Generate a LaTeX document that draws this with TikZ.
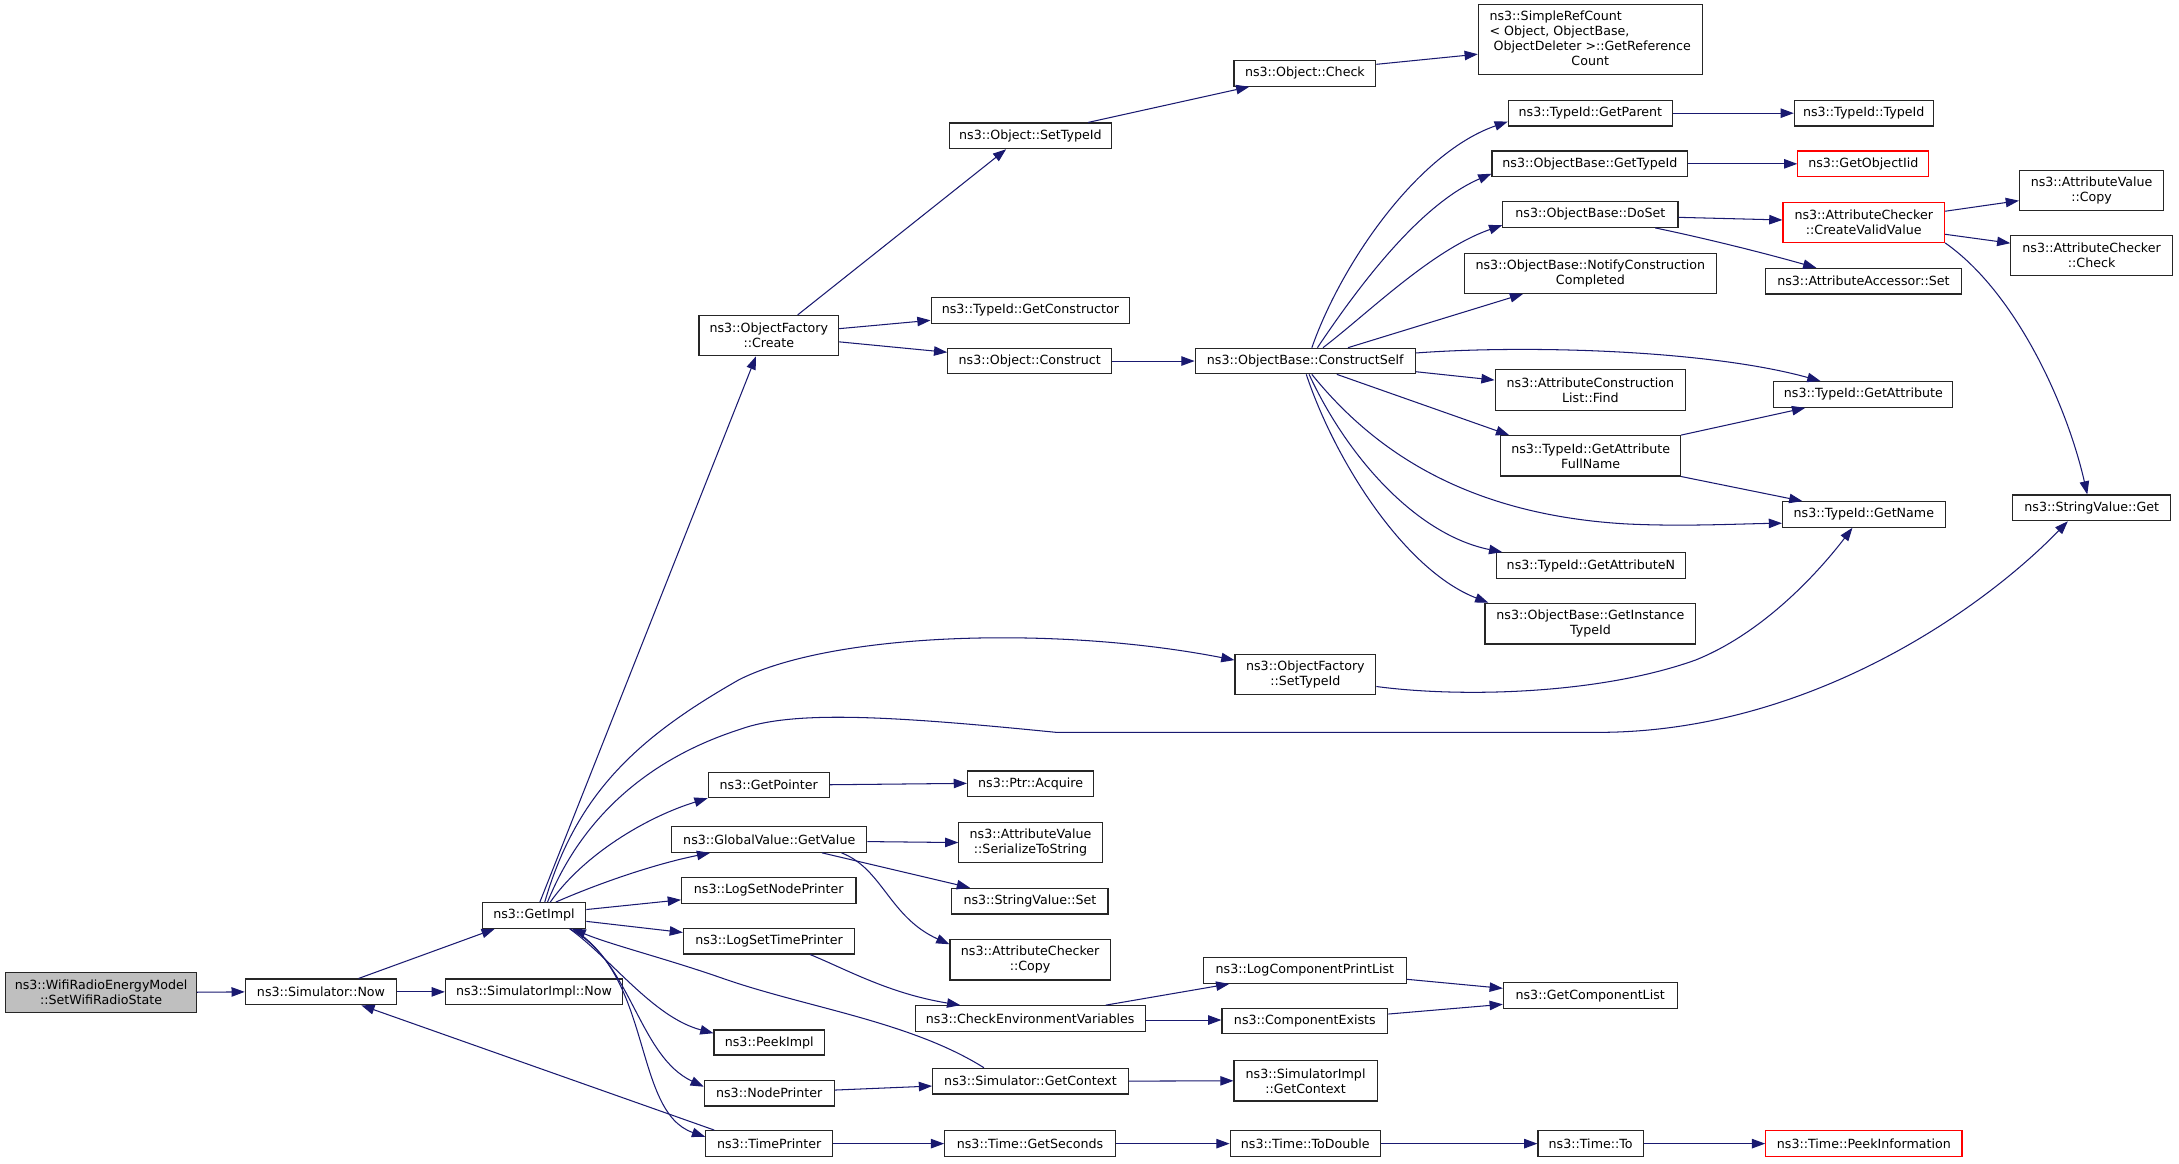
\documentclass[tikz,border=0pt]{standalone}
\usepackage{fontspec}
\setmainfont{DejaVu Sans}
\usetikzlibrary{arrows.meta}
\definecolor{edgec}{HTML}{191970}
\definecolor{startfill}{HTML}{BFBFBF}
\tikzset{
  box/.style={draw=black!85,line width=0.8pt,fill=white,inner sep=0pt,align=center,
    font=\fontsize{9.1}{10.8}\selectfont},
  startbox/.style={fill=startfill},
  redbox/.style={draw=red},
  callarrow/.style={draw=edgec,line width=0.75pt,-{Triangle[length=9.5pt,width=6.8pt]}}
}
\newcommand\bx[7][]{%
  \pgfmathsetmacro\bxw{#5-#3}\pgfmathsetmacro\bxh{#6-#4}%
  \pgfmathsetmacro\bxx{(#3+#5)/2}\pgfmathsetmacro\bxy{(#4+#6)/2}%
  \node[box,#1,minimum width=\bxw pt,minimum height=\bxh pt] (#2) at (\bxx,\bxy) {#7};}
\begin{document}
\begin{tikzpicture}[x=1pt,y=-1pt]
\fill[white] (0,0) rectangle (1568,837);
\useasboundingbox (0,0) rectangle (1568,837);
% nodes
\bx[startbox]{sw}{4}{699.5}{141.5}{728.5}{ns3::WifiRadioEnergyModel\\::SetWifiRadioState}
\bx{sn}{176.5}{704.5}{285.5}{723}{ns3::Simulator::Now}
\bx{sin}{320.5}{704.5}{448}{723}{ns3::SimulatorImpl::Now}
\bx{gi}{347}{649.5}{421.5}{668}{ns3::GetImpl}
\bx{ofc}{503}{227}{603.5}{256}{ns3::ObjectFactory\\::Create}
\bx{ost}{683}{88.5}{800}{107}{ns3::Object::SetTypeId}
\bx{ock}{888}{43.7}{990}{62}{ns3::Object::Check}
\bx{src}{1063.8}{3.4}{1224.8}{53.5}{\begin{tabular}{@{}l@{}}ns3::SimpleRefCount\\< Object, ObjectBase,\\\ ObjectDeleter >::GetReference\\\multicolumn{1}{@{}c@{}}{Count}\end{tabular}}
\bx{gc}{670}{214}{813}{232.7}{ns3::TypeId::GetConstructor}
\bx{oc}{682}{250.6}{800}{269}{ns3::Object::Construct}
\bx{cs}{860}{250.6}{1018.5}{269}{ns3::ObjectBase::ConstructSelf}
\bx{gp}{1085.4}{72.2}{1203.5}{90.7}{ns3::TypeId::GetParent}
\bx{tt}{1291.2}{72.2}{1391}{90.7}{ns3::TypeId::TypeId}
\bx{gt}{1073.6}{108.7}{1214.6}{127.1}{ns3::ObjectBase::GetTypeId}
\bx[redbox]{goi}{1293.7}{108.7}{1388}{127.1}{ns3::GetObjectIid}
\bx{ds}{1081.4}{145.1}{1207.5}{163.6}{ns3::ObjectBase::DoSet}
\bx[redbox]{cvv}{1283}{145.6}{1399.3}{174.4}{ns3::AttributeChecker\\::CreateValidValue}
\bx{avc}{1453.2}{122.8}{1557}{151.6}{ns3::AttributeValue\\::Copy}
\bx{acc}{1447}{169.6}{1563.2}{198.4}{ns3::AttributeChecker\\::Check}
\bx{ncc}{1053.9}{182.3}{1235}{211.1}{ns3::ObjectBase::NotifyConstruction\\Completed}
\bx{aas}{1270.2}{193.1}{1411.7}{211.6}{ns3::AttributeAccessor::Set}
\bx{acl}{1075.9}{266.2}{1213}{295.5}{ns3::AttributeConstruction\\List::Find}
\bx{ga}{1276.5}{274.6}{1405.2}{293.1}{ns3::TypeId::GetAttribute}
\bx{gfn}{1080}{313.5}{1209.3}{342.5}{ns3::TypeId::GetAttribute\\FullName}
\bx{gn}{1282.7}{361}{1399.7}{379.4}{ns3::TypeId::GetName}
\bx{svg}{1448.4}{356.2}{1562.1}{374.7}{ns3::StringValue::Get}
\bx{gan}{1076.6}{397.7}{1213}{416.2}{ns3::TypeId::GetAttributeN}
\bx{git}{1068.6}{434.1}{1220.3}{463.4}{ns3::ObjectBase::GetInstance\\TypeId}
\bx{ofs}{888.7}{470.8}{990}{499.6}{ns3::ObjectFactory\\::SetTypeId}
\bx{gptr}{509.6}{555.8}{596.8}{574}{ns3::GetPointer}
\bx{pa}{696.2}{554.8}{787}{573.3}{ns3::Ptr::Acquire}
\bx{gv}{483.4}{594.9}{623.7}{613.3}{ns3::GlobalValue::GetValue}
\bx{sts}{690}{592}{793.2}{620.8}{ns3::AttributeValue\\::SerializeToString}
\bx{lsn}{490.4}{631.6}{616}{650}{ns3::LogSetNodePrinter}
\bx{svs}{685}{639.2}{797.3}{657.7}{ns3::StringValue::Set}
\bx{lst}{491.8}{668}{615}{686.5}{ns3::LogSetTimePrinter}
\bx{acp}{683.6}{676}{799}{705.2}{ns3::AttributeChecker\\::Copy}
\bx{lcp}{866}{689}{1012}{707.6}{ns3::LogComponentPrintList}
\bx{cev}{658.5}{723.7}{824.2}{742.4}{ns3::CheckEnvironmentVariables}
\bx{cex}{879.3}{725.6}{998.6}{744}{ns3::ComponentExists}
\bx{gcl}{1081.8}{707.1}{1206.8}{725.8}{ns3::GetComponentList}
\bx{pki}{513.8}{741.2}{593.3}{759.2}{ns3::PeekImpl}
\bx{np}{506.8}{777.2}{600.3}{795.9}{ns3::NodePrinter}
\bx{sgc}{671.1}{768.7}{812}{787.2}{ns3::Simulator::GetContext}
\bx{sigc}{888}{763.2}{991}{792.3}{ns3::SimulatorImpl\\::GetContext}
\bx{tp}{507.8}{813.6}{599.2}{832.3}{ns3::TimePrinter}
\bx{tgs}{679.8}{813.6}{802.6}{832.3}{ns3::Time::GetSeconds}
\bx{ttd}{885.2}{813.6}{993.4}{832.3}{ns3::Time::ToDouble}
\bx{tto}{1106.7}{813.6}{1182.6}{832.3}{ns3::Time::To}
\bx[redbox]{tpi}{1270.6}{813.6}{1411.8}{832.3}{ns3::Time::PeekInformation}
% edges
\draw[callarrow] (sw.east) -- (sn.west);
\draw[callarrow] (sn.north -| 258,0) -- (gi.south -| 356,0);
\draw[callarrow] (sn.east) -- (sin.west);
\draw[callarrow] (tp.north -| 514,0) -- (sn.south -| 260,0);
\draw[callarrow] (gi.north -| 388.5,0) -- (ofc.south -| 544,0);
\draw[callarrow] (gi.north -| 392,0) .. controls (415,570) and (460,530) .. (532,489)
   .. controls (600,455) and (760,450) .. (ofs.west |- 0,475);
\draw[callarrow] (gi.north -| 394,0) .. controls (420,585) and (470,545) .. (532,525)
   .. controls (570,511) and (640,515) .. (760,527) -- (1150,527)
   .. controls (1300,527) and (1425,440) .. (svg.south -| 1488,0);
\draw[callarrow] (gi.north -| 396,0) .. controls (420,615) and (465,588) .. (gptr.south west);
\draw[callarrow] (gi.north -| 400,0) .. controls (430,636) and (470,622) .. (gv.south -| 511,0);
\draw[callarrow] (gi.east |- 0,654.5) -- (lsn.west |- 0,647.5);
\draw[callarrow] (gi.east |- 0,663) -- (lst.west |- 0,671);
\draw[callarrow] (gi.south -| 410,0) .. controls (440,690) and (470,732) .. (pki.west |- 0,743.5);
\draw[callarrow] (gi.south -| 412,0) .. controls (455,695) and (460,760) .. (np.west |- 0,782);
\draw[callarrow] (gi.south -| 410,0) .. controls (470,700) and (455,800) .. (tp.west |- 0,818);
\draw[callarrow] (sgc.north -| 708,0) .. controls (655,735) and (580,725) .. (520,704)
   .. controls (480,690) and (440,680) .. (gi.south -| 412,0);
\draw[callarrow] (ofc.north -| 574,0) -- (ost.south -| 724,0);
\draw[callarrow] (ofc.east |- 0,236.5) -- (gc.west |- 0,230.5);
\draw[callarrow] (ofc.east |- 0,246) -- (oc.west |- 0,253.5);
\draw[callarrow] (ost.north -| 783,0) -- (ock.south -| 899,0);
\draw[callarrow] (ock.east |- 0,46.3) -- (src.west |- 0,39);
\draw[callarrow] (oc.east) -- (cs.west);
\draw[callarrow] (cs.north -| 944,0) .. controls (965,190) and (1020,110) .. (gp.west |- 0,87.5);
\draw[callarrow] (cs.north -| 948,0) .. controls (975,210) and (1020,148) .. (gt.west |- 0,125);
\draw[callarrow] (cs.north -| 952,0) .. controls (985,225) and (1030,180) .. (ds.west |- 0,162);
\draw[callarrow] (cs.north -| 970,0) -- (ncc.south -| 1096,0);
\draw[callarrow] (cs.east |- 0,254) .. controls (1100,248) and (1230,252) .. (ga.north -| 1310,0);
\draw[callarrow] (cs.east |- 0,267.5) -- (acl.west |- 0,273.5);
\draw[callarrow] (cs.south -| 962,0) -- (gfn.north -| 1086,0);
\draw[callarrow] (cs.south -| 944,0) .. controls (985,320) and (1050,370) .. (1170,377)
   .. controls (1210,379) and (1250,377) .. (gn.west |- 0,376.5);
\draw[callarrow] (cs.south -| 942,0) .. controls (970,330) and (1020,385) .. (gan.north -| 1081,0);
\draw[callarrow] (cs.south -| 940,0) .. controls (960,330) and (1010,410) .. (git.north -| 1071,0);
\draw[callarrow] (gp.east) -- (tt.west);
\draw[callarrow] (gt.east) -- (goi.west);
\draw[callarrow] (ds.east |- 0,156.4) -- (cvv.west |- 0,158.3);
\draw[callarrow] (ds.south -| 1191,0) .. controls (1220,170) and (1262,180) .. (aas.north -| 1307,0);
\draw[callarrow] (cvv.east |- 0,152) -- (avc.west |- 0,144.4);
\draw[callarrow] (cvv.east |- 0,168.6) -- (acc.west |- 0,175);
\draw[callarrow] (cvv.south east) .. controls (1450,210) and (1487,290) .. (svg.north -| 1502,0);
\draw[callarrow] (gfn.north east) -- (ga.south -| 1299,0);
\draw[callarrow] (gfn.south east) -- (gn.north -| 1297,0);
\draw[callarrow] (ofs.east |- 0,494) .. controls (1050,502) and (1150,500) .. (1220,475)
   .. controls (1270,455) and (1310,410) .. (gn.south -| 1333,0);
\draw[callarrow] (gptr.east |- 0,564.7) -- (pa.west |- 0,563.7);
\draw[callarrow] (gv.east |- 0,605.6) -- (sts.west |- 0,606.3);
\draw[callarrow] (gv.south -| 591.5,0) -- (svs.north -| 698,0);
\draw[callarrow] (gv.south -| 605.5,0) .. controls (635,625) and (640,660) .. (acp.west |- 0,679.5);
\draw[callarrow] (lst.south -| 583,0) .. controls (610,698) and (640,715) .. (cev.north -| 691,0);
\draw[callarrow] (cev.north -| 795.6,0) -- (lcp.south -| 884.6,0);
\draw[callarrow] (cev.east |- 0,734) -- (cex.west |- 0,734);
\draw[callarrow] (lcp.east |- 0,704.7) -- (gcl.west |- 0,711.2);
\draw[callarrow] (cex.east |- 0,729.7) -- (gcl.west |- 0,722.7);
\draw[callarrow] (np.east |- 0,784.4) -- (sgc.west |- 0,781.5);
\draw[callarrow] (sgc.east) -- (sigc.west);
\draw[callarrow] (tp.east) -- (tgs.west);
\draw[callarrow] (tgs.east) -- (ttd.west);
\draw[callarrow] (ttd.east) -- (tto.west);
\draw[callarrow] (tto.east) -- (tpi.west);
\end{tikzpicture}
\end{document}
